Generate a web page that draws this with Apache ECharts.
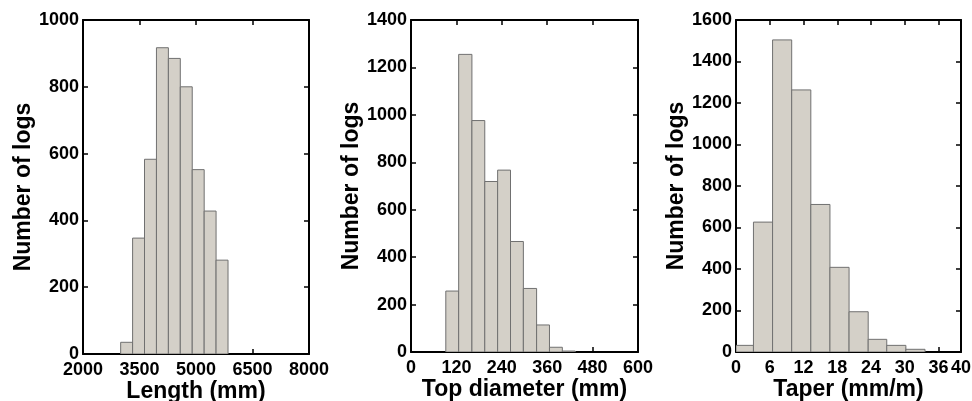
<!DOCTYPE html>
<html>
<head>
<meta charset="utf-8">
<script src="https://cdn.jsdelivr.net/npm/echarts@6/dist/echarts.min.js"></script>
<style>
html,body{margin:0;padding:0;background:#fff;}
#chart{width:972px;height:401px;}
</style>
</head>
<body>
<div id="chart"></div>
<script>
// ---- Data ----
// Panel 1: Length (mm)
const lengthEdges = [3000, 3317, 3633, 3950, 4267, 4583, 4900, 5217, 5533, 5850];
const lengthCounts = [35, 347, 583, 917, 885, 800, 552, 428, 281];
// Panel 2: Top diameter (mm)
const diamEdges = [92, 126, 161, 195, 229, 263, 297, 332, 366, 400, 434];
const diamCounts = [257, 1255, 976, 719, 767, 466, 268, 114, 20, 4];
// Panel 3: Taper (mm/m)
const taperEdges = [0, 3.1, 6.5, 9.9, 13.3, 16.7, 20.1, 23.5, 26.8, 30.2, 33.6];
const taperCounts = [32, 626, 1504, 1263, 711, 408, 194, 61, 32, 13];

const xTitles = ['Length (mm)', 'Top diameter (mm)', 'Taper (mm/m)'];
const yTitle = 'Number of logs';
const xRanges = [[2000, 8000, 1500], [0, 600, 120], [0, 40, 6]];
const yRanges = [[0, 1000, 200], [0, 1400, 200], [0, 1600, 200]];

function toBins(edges, counts) {
  return counts.map((c, i) => [edges[i], edges[i + 1], c]);
}
const binsList = [
  toBins(lengthEdges, lengthCounts),
  toBins(diamEdges, diamCounts),
  toBins(taperEdges, taperCounts)
];

const FONT = '"Liberation Sans", Arial, sans-serif';
const grids = [
  { left: 83, top: 20, width: 226, height: 334, outerBoundsMode: 'none', containLabel: false },
  { left: 411, top: 20, width: 227, height: 332, outerBoundsMode: 'none', containLabel: false },
  { left: 736, top: 20, width: 225, height: 332, outerBoundsMode: 'none', containLabel: false }
];

function renderItem(params, api) {
  const x0 = api.value(0), x1 = api.value(1), y = api.value(2);
  const p0 = api.coord([x0, 0]);
  const p1 = api.coord([x1, y]);
  return {
    type: 'rect',
    shape: { x: p0[0], y: p1[1], width: p1[0] - p0[0], height: p0[1] - p1[1] },
    style: { fill: '#d4d0c8', stroke: '#707070', lineWidth: 1 }
  };
}

const plain = v => String(v);
const xAxes = [], yAxes = [], series = [];
const axisLine = { show: true, onZero: false, lineStyle: { color: '#000', width: 2 } };
const tick = { show: true, inside: true, length: 5, lineStyle: { color: '#000', width: 1.5 } };
for (let i = 0; i < 3; i++) {
  const [xmin, xmax, xint] = xRanges[i];
  const [ymin, ymax, yint] = yRanges[i];
  xAxes.push({
    type: 'value', gridIndex: i, min: xmin, max: xmax, interval: xint, position: 'bottom',
    axisLine, axisTick: tick, splitLine: { show: false },
    axisLabel: { color: '#000', fontFamily: FONT, fontWeight: 'bold', fontSize: 18, margin: 7, formatter: plain },
    name: xTitles[i], nameLocation: 'middle', nameGap: 26, nameMoveOverlap: false,
    nameTextStyle: { color: '#000', fontFamily: FONT, fontWeight: 'bold', fontSize: 23 }
  });
  xAxes.push({
    type: 'value', gridIndex: i, min: xmin, max: xmax, interval: xint, position: 'top',
    axisLine, axisTick: tick, splitLine: { show: false }, axisLabel: { show: false }
  });
  yAxes.push({
    type: 'value', gridIndex: i, min: ymin, max: ymax, interval: yint, position: 'left',
    axisLine, axisTick: tick, splitLine: { show: false },
    axisLabel: { color: '#000', fontFamily: FONT, fontWeight: 'bold', fontSize: 18, margin: 4, formatter: plain },
    name: yTitle, nameLocation: 'middle', nameGap: 44,
    nameTextStyle: { color: '#000', fontFamily: FONT, fontWeight: 'bold', fontSize: 23 }
  });
  yAxes.push({
    type: 'value', gridIndex: i, min: ymin, max: ymax, interval: yint, position: 'right',
    axisLine, axisTick: tick, splitLine: { show: false }, axisLabel: { show: false }
  });
  series.push({
    type: 'custom', xAxisIndex: i * 2, yAxisIndex: i * 2,
    renderItem, data: binsList[i], encode: { x: [0, 1], y: 2 }, clip: true, z: 1
  });
}

const chart = echarts.init(document.getElementById('chart'), null, { renderer: 'canvas' });
chart.setOption({
  animation: false,
  backgroundColor: '#fff',
  grid: grids,
  xAxis: xAxes,
  yAxis: yAxes,
  series
});
</script>
</body>
</html>
